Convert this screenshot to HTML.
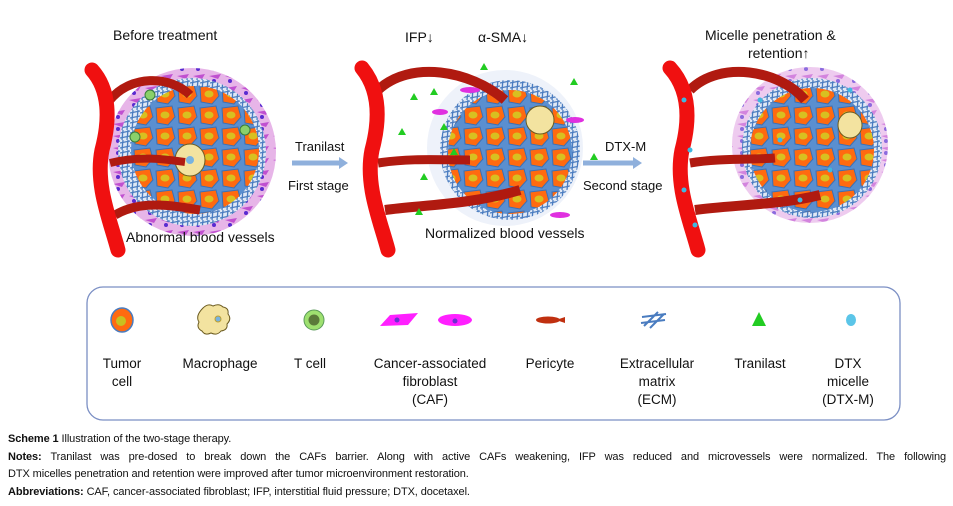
<!DOCTYPE html>
<html><head><meta charset="utf-8"><style>
body{margin:0;background:#fff;width:953px;height:506px;overflow:hidden;position:relative;font-family:"Liberation Sans",sans-serif}
.cap{position:absolute;left:8px;width:938px;font-size:11px;color:#111;line-height:17px;letter-spacing:-0.1px;white-space:nowrap}
.j{text-align:justify;text-align-last:justify;white-space:normal}
</style></head><body>
<svg width="953" height="430" style="position:absolute;left:0;top:0" font-family="Liberation Sans, sans-serif">
<defs>
<pattern id="cells" width="22" height="21" patternUnits="userSpaceOnUse">
<rect width="22" height="21" fill="#5a8fd0"/>
<path d="M2 3 L18 1 L21 12 L14 20 L3 18 Z" fill="#ff6a10" stroke="#3a6fb5" stroke-width="1"/>
<ellipse cx="11" cy="10" rx="4.5" ry="3.5" fill="#d8c020"/>
</pattern>
<pattern id="ecm" width="10" height="10" patternUnits="userSpaceOnUse">
<rect width="10" height="10" fill="#dfe8f5"/>
<path d="M0 3 L10 1 M0 8 L10 6 M3 0 L2 10 M8 0 L7 10" stroke="#4a7cc0" stroke-width="1.3"/>
</pattern>
<pattern id="caf" width="16" height="12" patternUnits="userSpaceOnUse">
<rect width="16" height="12" fill="#e7b5e8"/>
<path d="M1 4 L13 2 L10 7 Z" fill="#c050d0"/>
<circle cx="6" cy="9" r="2" fill="#5a2ad0"/>
</pattern>
<marker id="ar" markerUnits="userSpaceOnUse" markerWidth="10" markerHeight="12" refX="2" refY="6" orient="auto"><path d="M0 0 L9 6 L0 12 Z" fill="#8fb0dc"/></marker>
</defs>

<g>
<circle cx="192" cy="152" r="84" fill="url(#caf)"/>
<circle cx="192" cy="152" r="74" fill="url(#ecm)"/>
<circle cx="195" cy="150" r="64" fill="url(#cells)"/>
<ellipse cx="190" cy="160" rx="15" ry="16" fill="#f3e3a0" stroke="#6b5b20"/>
<circle cx="190" cy="160" r="4" fill="#78b3e0"/>
<circle cx="150" cy="95" r="5" fill="#8ad06a" stroke="#3a7a3a"/>
<circle cx="135" cy="137" r="5" fill="#8ad06a" stroke="#3a7a3a"/>
<circle cx="245" cy="130" r="5" fill="#8ad06a" stroke="#3a7a3a"/>
<path d="M110 100 C130 75 170 75 190 95" stroke="#b01a10" stroke-width="9" fill="none"/>
<path d="M110 163 C140 155 170 160 185 162" stroke="#b01a10" stroke-width="8" fill="none"/>
<path d="M115 215 C140 200 170 205 200 210" stroke="#b01a10" stroke-width="9" fill="none"/>
<path d="M92 70 C110 90 110 120 102 150 C95 185 110 220 118 250" stroke="#f01010" stroke-width="15" fill="none" stroke-linecap="round"/>
</g>
<text x="113" y="40" font-size="14" fill="#111">Before treatment</text>
<text x="126" y="242" font-size="14" fill="#111">Abnormal blood vessels</text>

<text x="295" y="151" font-size="13" fill="#111">Tranilast</text>
<line x1="292" y1="163" x2="341" y2="163" stroke="#8fb0dc" stroke-width="5" marker-end="url(#ar)"/>
<text x="288" y="190" font-size="13" fill="#111">First stage</text>

<g>
<circle cx="505" cy="148" r="78" fill="#eef2fa"/>
<circle cx="510" cy="150" r="70" fill="url(#ecm)"/>
<circle cx="510" cy="152" r="62" fill="url(#cells)"/>
<ellipse cx="540" cy="120" rx="14" ry="14" fill="#f3e3a0" stroke="#6b5b20"/>
<path d="M378 90 C410 60 470 70 505 100" stroke="#b01a10" stroke-width="10" fill="none"/>
<path d="M378 163 C410 158 440 160 470 160" stroke="#b01a10" stroke-width="9" fill="none"/>
<path d="M385 210 C420 205 470 205 520 190" stroke="#b01a10" stroke-width="10" fill="none"/>
<path d="M362 68 C380 90 380 120 372 150 C365 185 380 220 388 250" stroke="#f01010" stroke-width="15" fill="none" stroke-linecap="round"/>
<g fill="#22cc22">
<path d="M410 100 l4 -7 l4 7z"/><path d="M440 130 l4 -7 l4 7z"/><path d="M420 180 l4 -7 l4 7z"/><path d="M450 155 l4 -7 l4 7z"/><path d="M480 70 l4 -7 l4 7z"/><path d="M570 85 l4 -7 l4 7z"/><path d="M398 135 l4 -7 l4 7z"/><path d="M430 95 l4 -7 l4 7z"/><path d="M415 215 l4 -7 l4 7z"/><path d="M590 160 l4 -7 l4 7z"/>
</g>
<g fill="#e030e0"><ellipse cx="470" cy="90" rx="10" ry="3"/><ellipse cx="575" cy="120" rx="9" ry="3"/><ellipse cx="560" cy="215" rx="10" ry="3"/><ellipse cx="440" cy="112" rx="8" ry="3"/></g>
</g>
<text x="405" y="42" font-size="14" fill="#111">IFP↓</text>
<text x="478" y="42" font-size="14" fill="#111">α-SMA↓</text>
<text x="425" y="238" font-size="14" fill="#111">Normalized blood vessels</text>

<text x="605" y="151" font-size="13" fill="#111">DTX-M</text>
<line x1="583" y1="163" x2="635" y2="163" stroke="#8fb0dc" stroke-width="5" marker-end="url(#ar)"/>
<text x="583" y="190" font-size="13" fill="#111">Second stage</text>

<g>
<circle cx="810" cy="145" r="78" fill="url(#caf)" opacity="0.7"/>
<circle cx="812" cy="148" r="70" fill="url(#ecm)"/>
<circle cx="812" cy="150" r="62" fill="url(#cells)"/>
<ellipse cx="850" cy="125" rx="12" ry="13" fill="#f3e3a0" stroke="#6b5b20"/>
<path d="M690 90 C720 60 780 70 805 100" stroke="#b01a10" stroke-width="10" fill="none"/>
<path d="M690 163 C720 158 750 160 775 158" stroke="#b01a10" stroke-width="9" fill="none"/>
<path d="M695 210 C730 205 780 205 820 195" stroke="#b01a10" stroke-width="10" fill="none"/>
<path d="M670 68 C690 90 690 120 682 150 C675 185 690 220 698 250" stroke="#f01010" stroke-width="15" fill="none" stroke-linecap="round"/>
<g fill="#40b8e0"><circle cx="684" cy="100" r="2.5"/><circle cx="690" cy="150" r="2.5"/><circle cx="684" cy="190" r="2.5"/><circle cx="695" cy="225" r="2.5"/><circle cx="760" cy="100" r="2.5"/><circle cx="780" cy="140" r="2.5"/><circle cx="830" cy="170" r="2.5"/><circle cx="800" cy="200" r="2.5"/><circle cx="850" cy="90" r="2.5"/></g>
</g>
<text x="705" y="40" font-size="14" fill="#111">Micelle penetration &amp;</text>
<text x="748" y="58" font-size="14" fill="#111">retention↑</text>

<rect x="87" y="287" width="813" height="133" rx="16" fill="#fff" stroke="#7b8fc4" stroke-width="1.3"/>
<ellipse cx="122" cy="320" rx="11" ry="12" fill="#ff6a10" stroke="#4a7cc0" stroke-width="1.5"/>
<ellipse cx="121" cy="321" rx="5" ry="5" fill="#c8c020"/>
<g transform="translate(10,0)">
<path d="M193 308 q5 -5 10 -2 q6 -3 10 1 q6 1 5 7 q4 5 -1 10 q1 6 -6 7 q-4 5 -10 2 q-6 3 -9 -2 q-6 -3 -3 -9 q-4 -6 4 -14z" fill="#f3e3a0" stroke="#6b5b20"/>
<circle cx="208" cy="319" r="3" fill="#78b3e0" stroke="#c0a030"/>
</g>
<circle cx="314" cy="320" r="10" fill="#9ee070" stroke="#5a9a5a"/>
<circle cx="314" cy="320" r="5.5" fill="#5a7a3a"/>
<path d="M380 326 L390 315 L418 313 L408 325 Z" fill="#ff20ff"/>
<ellipse cx="455" cy="320" rx="17" ry="6" fill="#ff20ff"/>
<circle cx="397" cy="320" r="2.5" fill="#6a30d0"/><circle cx="455" cy="321" r="2.5" fill="#6a30d0"/>
<ellipse cx="548" cy="320" rx="12" ry="3.5" fill="#c03010"/>
<path d="M556 320 l9 -3 l0 6z" fill="#c03010"/>
<path d="M644 326 l14 -14 M650 328 l14 -14 M642 317 l24 -3 M641 323 l24 -3" stroke="#4a7cc0" stroke-width="2"/>
<path d="M752 326 l7 -14 l7 14z" fill="#22cc22"/>
<ellipse cx="851" cy="320" rx="5" ry="6" fill="#5bc5e8"/>
</svg>
<div style="position:absolute;left:0;top:0;width:953px;font-size:13.5px;color:#111;line-height:18px">
<div style="position:absolute;left:100px;top:355px;width:44px;text-align:center">Tumor<br>cell</div>
<div style="position:absolute;left:165px;top:355px;width:110px;text-align:center">Macrophage</div>
<div style="position:absolute;left:280px;top:355px;width:60px;text-align:center">T cell</div>
<div style="position:absolute;left:340px;top:355px;width:180px;text-align:center">Cancer-associated<br>fibroblast<br>(CAF)</div>
<div style="position:absolute;left:510px;top:355px;width:80px;text-align:center">Pericyte</div>
<div style="position:absolute;left:597px;top:355px;width:120px;text-align:center">Extracellular<br>matrix<br>(ECM)</div>
<div style="position:absolute;left:720px;top:355px;width:80px;text-align:center">Tranilast</div>
<div style="position:absolute;left:808px;top:355px;width:80px;text-align:center">DTX<br>micelle<br>(DTX-M)</div>
</div>
<div class="cap" style="top:431px"><b>Scheme 1</b> Illustration of the two-stage therapy.</div>
<div class="cap j" style="top:449px"><b>Notes:</b> Tranilast was pre-dosed to break down the CAFs barrier. Along with active CAFs weakening, IFP was reduced and microvessels were normalized. The following</div>
<div class="cap" style="top:466px">DTX micelles penetration and retention were improved after tumor microenvironment restoration.</div>
<div class="cap" style="top:484px"><b>Abbreviations:</b> CAF, cancer-associated fibroblast; IFP, interstitial fluid pressure; DTX, docetaxel.</div>
</body></html>
